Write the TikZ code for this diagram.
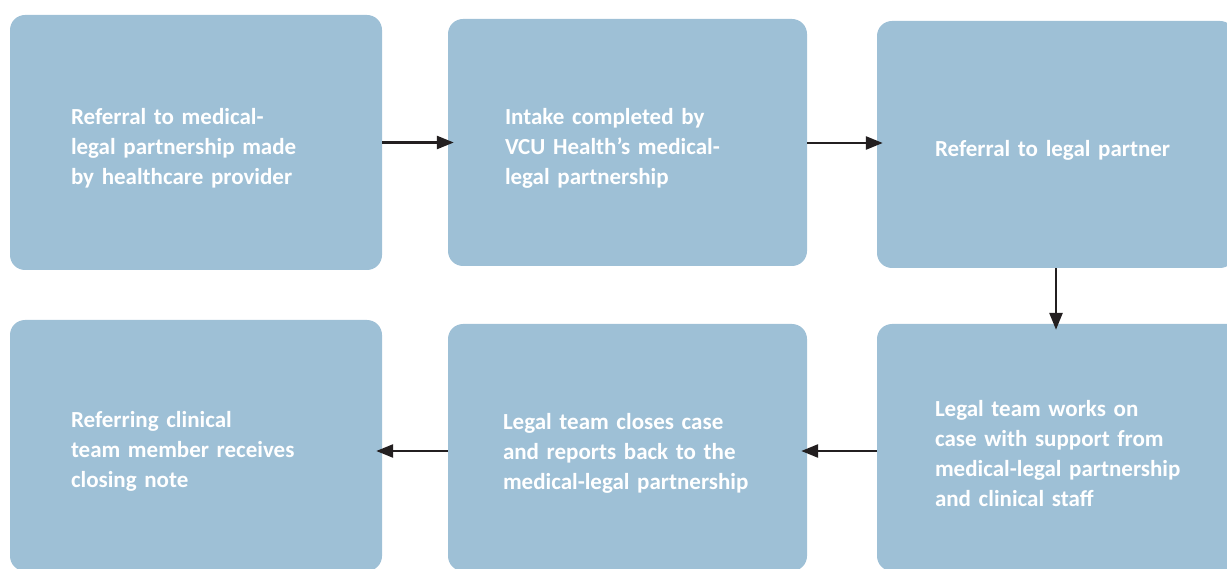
\documentclass[tikz,border=0pt]{standalone}
\usepackage{fontspec}
\setmainfont{Carlito}
\usetikzlibrary{arrows.meta,positioning}

\definecolor{stepblue}{HTML}{9EC0D6}
\definecolor{arrowdark}{HTML}{231F20}
\hyphenpenalty=10000

\tikzset{
    stepbox/.style={rectangle, rounded corners=15pt, fill=stepblue, text=white,
        inner sep=0pt, align=left, anchor=center,
        execute at begin node={\rule{0pt}{28pt}},
        font=\bfseries\fontsize{23}{30}\selectfont},
    flow/.style={draw=arrowdark, line width=2.6pt, shorten >=-6pt,
        -{Triangle[length=17pt,width=13pt]}}
}

\begin{document}
\begin{tikzpicture}[x=1pt,y=-1pt]
    \useasboundingbox (0,0) rectangle (1227,569);

    % top row
    \node[stepbox, minimum width=372pt, minimum height=255pt, text width=250pt]
        (s1) at (196,142.5) {Referral to medical-\\legal partnership made\\by healthcare provider};
    \node[stepbox, minimum width=359pt, minimum height=247pt, text width=245pt]
        (s2) at (627.5,142.5) {Intake completed by\\VCU Health’s medical-\\legal partnership};
    \node[stepbox, minimum width=358pt, minimum height=247pt, text width=242pt]
        (s3) at (1056,144.5) {Referral to legal partner};

    % bottom row
    \node[stepbox, minimum width=372pt, minimum height=251pt, text width=250pt]
        (s4) at (196,445.5) {Referring clinical\\team member receives\\closing note};
    \node[stepbox, minimum width=359pt, minimum height=247pt, text width=249pt]
        (s5) at (627.5,447.5) {Legal team closes case\\and reports back to the\\medical-legal partnership};
    \node[stepbox, minimum width=366pt, minimum height=247pt, text width=250pt]
        (s6) at (1060,447.5) {Legal team works on\\case with support from\\medical-legal partnership\\and clinical staff};

    \draw[flow] (s1.east) -- (s1.east -| s2.west);
    \draw[flow] ([yshift=-0.5pt]s2.east) -- ([yshift=-0.5pt]s2.east -| s3.west);
    \draw[flow] (s3.south) -- (s3.south |- s6.north);
    \draw[flow] ([yshift=-3.5pt]s6.west) -- ([yshift=-3.5pt]s6.west -| s5.east);
    \draw[flow] ([yshift=-3.5pt]s5.west) -- ([yshift=-3.5pt]s5.west -| s4.east);
\end{tikzpicture}
\end{document}
